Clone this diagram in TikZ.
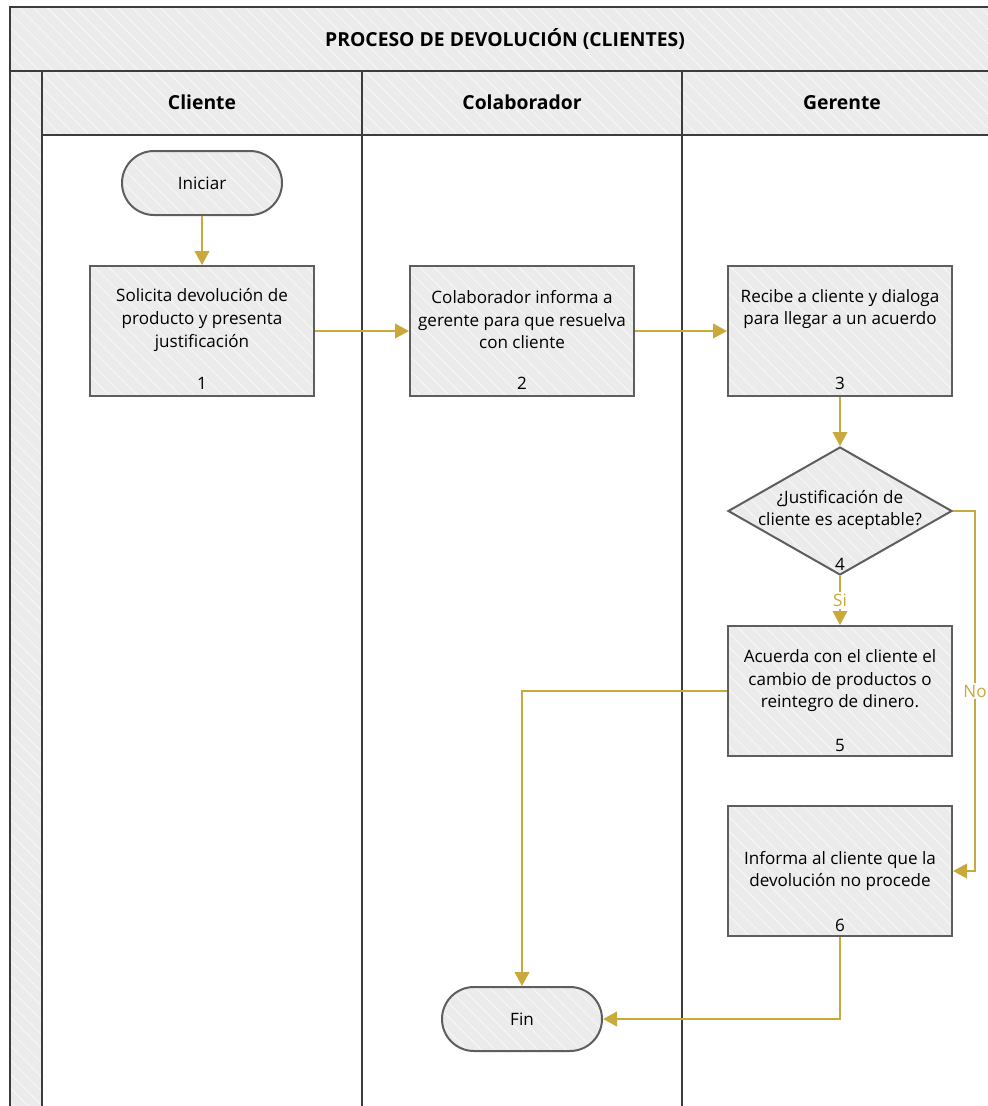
\documentclass[tikz,border=0pt]{standalone}
\usepackage{fontspec}
\setmainfont{Open Sans}
\usetikzlibrary{arrows.meta,patterns.meta,shapes.geometric}
\definecolor{flow}{HTML}{C9A83C}
\definecolor{shade}{HTML}{EBEBEB}
\definecolor{hatch}{HTML}{F5F5F5}
\definecolor{edge}{HTML}{5E5E5E}
\definecolor{lane}{HTML}{3C3C3C}
\begin{document}
\begin{tikzpicture}[x=0.75pt,y=-0.75pt,
  hatched/.style={preaction={fill=shade},
    pattern={Lines[angle=-45,distance=7.5pt,line width=0.9pt]},pattern color=hatch},
  laneline/.style={draw=lane,line width=1.5pt},
  stepbox/.style={hatched,draw=edge,line width=1.5pt,rectangle,
    minimum width=168pt,minimum height=97.5pt,inner sep=0pt},
  terminal/.style={hatched,draw=edge,line width=1.5pt,rectangle,rounded corners=24pt,
    minimum width=120pt,minimum height=48pt,inner sep=0pt,
    font=\fontsize{12.8}{16.9}\selectfont},
  decision/.style={hatched,draw=edge,line width=1.5pt,diamond,
    minimum width=168pt,minimum height=96pt,inner sep=0pt},
  txt/.style={align=center,font=\fontsize{12.8}{16.9}\selectfont,inner sep=0pt},
  head/.style={font=\fontsize{14.5}{16}\selectfont\bfseries,inner sep=0pt},
  flowline/.style={draw=flow,line width=1.4pt,-{Triangle[length=10.5pt,width=11pt]}},
  lbl/.style={fill=white,text=flow,font=\fontsize{12.8}{14}\selectfont,inner sep=1.5pt}
]
\useasboundingbox (0,0) rectangle (988,1106);
\clip (0,0) rectangle (988,1106);

% swimlane frame
\path[hatched] (10,7) rectangle (1002,71);
\path[hatched] (10,71) rectangle (42,1120);
\path[hatched] (42,71) rectangle (1002,135);
\draw[laneline] (1002,7) -- (10,7) -- (10,1120);
\draw[laneline] (10,71) -- (1002,71);
\draw[laneline] (42,135) -- (1002,135);
\draw[laneline] (42,71) -- (42,1120);
\draw[laneline] (362,71) -- (362,1120);
\draw[laneline] (682,71) -- (682,1120);

\node[head] (title) at (505,39) {PROCESO DE DEVOLUCIÓN (CLIENTES)};
\node[head] (hcli) at (202,102) {Cliente};
\node[head] (hcol) at (522,102) {Colaborador};
\node[head] (hger) at (842,103) {Gerente};

% process steps
\node[terminal] (start) at (202,183) {Iniciar};

\node[stepbox] (b1) at (202,331) {};
\node[txt] (t1) at (202,320) {Solicita devolución de\\producto y presenta\\justificación};
\node[txt] (n1) at (202,383) {1};

\node[stepbox] (b2) at (522,331) {};
\node[txt] (t2) at (522,320) {Colaborador informa a\\gerente para que resuelva\\con cliente};
\node[txt] (n2) at (522,383) {2};

\node[stepbox] (b3) at (840,331) {};
\node[txt] (t3) at (840,309) {Recibe a cliente y dialoga\\para llegar a un acuerdo};
\node[txt] (n3) at (840,383) {3};

\node[decision] (d4) at (840,511) {};
\node[txt] (t4) at (840,510) {¿Justificación de\\cliente es aceptable?};
\node[txt] (n4) at (840,564) {4};

\node[stepbox] (b5) at (840,691) {};
\node[txt] (t5) at (840,681) {Acuerda con el cliente el\\cambio de productos o\\reintegro de dinero.};
\node[txt] (n5) at (840,745) {5};

\node[stepbox] (b6) at (840,871) {};
\node[txt] (t6) at (840,871) {Informa al cliente que la\\devolución no procede};
\node[txt] (n6) at (840,925) {6};

\node[terminal] (fin) at (522,1019) {Fin};

% connectors
\draw[flowline] (start) -- (b1);
\draw[flowline] (b1) -- (b2);
\draw[flowline] (b2) -- (b3);
\draw[flowline] (b3) -- (d4);
\draw[flowline] (d4) -- node[lbl] (si) {Si} (b5);
\draw[flowline] (d4.east) -- ++(22,0) |- node[lbl,pos=0.25] (no) {No} (b6.east);
\draw[flowline] (b5.west) -| (fin.north);
\draw[flowline] (b6.south) |- (fin.east);
\end{tikzpicture}
\end{document}
